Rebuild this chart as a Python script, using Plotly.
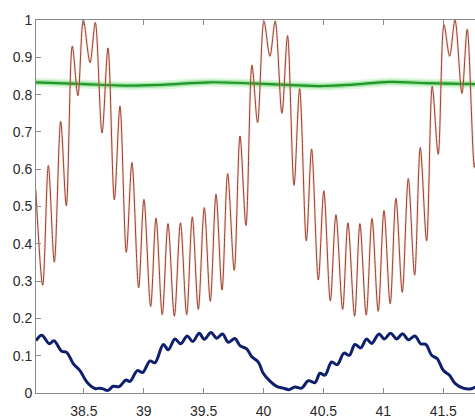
import plotly.graph_objects as go

# Fast-oscillating signal: local extrema (x, y)
red_x = [38.098, 38.156, 38.203, 38.253, 38.306, 38.353, 38.403, 38.450, 38.495, 38.551,
         38.595, 38.651, 38.701, 38.754, 38.801, 38.854, 38.901, 38.957, 39.001, 39.057,
         39.102, 39.154, 39.202, 39.255, 39.306, 39.358, 39.405, 39.455, 39.505, 39.555,
         39.603, 39.653, 39.700, 39.755, 39.803, 39.853, 39.903, 39.950, 40.003, 40.053,
         40.097, 40.153, 40.200, 40.254, 40.301, 40.357, 40.401, 40.457, 40.503, 40.557,
         40.604, 40.660, 40.704, 40.760, 40.804, 40.857, 40.905, 40.957, 41.005, 41.057,
         41.105, 41.158, 41.208, 41.261, 41.308, 41.361, 41.408, 41.458, 41.506, 41.553,
         41.598, 41.656, 41.700, 41.760, 41.800]
red_y = [0.545, 0.289, 0.610, 0.351, 0.728, 0.502, 0.930, 0.797, 1.000, 0.886,
         0.993, 0.697, 0.925, 0.518, 0.769, 0.377, 0.618, 0.282, 0.519, 0.232,
         0.469, 0.210, 0.454, 0.206, 0.456, 0.210, 0.472, 0.224, 0.497, 0.246,
         0.533, 0.276, 0.588, 0.329, 0.689, 0.449, 0.879, 0.725, 0.997, 0.903,
         0.997, 0.750, 0.958, 0.557, 0.816, 0.408, 0.654, 0.303, 0.542, 0.247,
         0.478, 0.224, 0.456, 0.206, 0.454, 0.209, 0.468, 0.219, 0.489, 0.239,
         0.522, 0.270, 0.575, 0.316, 0.658, 0.408, 0.822, 0.640, 0.987, 0.903,
         1.000, 0.803, 0.975, 0.605, 0.850]

# Nearly constant level
green_x = [38.10, 38.45, 38.85, 39.15, 39.55, 39.90, 40.20, 40.50, 40.75, 41.05, 41.35, 41.77]
green_y = [0.833, 0.829, 0.824, 0.826, 0.833, 0.830, 0.826, 0.823, 0.827, 0.834, 0.831, 0.828]

# Slow wave with small ripple
blue_x = [38.100, 38.148, 38.211, 38.250, 38.314, 38.356, 38.411, 38.467, 38.528, 38.592,
          38.634, 38.660, 38.700, 38.745, 38.795, 38.851, 38.885, 38.946, 38.990, 39.052,
          39.093, 39.163, 39.204, 39.260, 39.308, 39.363, 39.408, 39.463, 39.505, 39.561,
          39.608, 39.658, 39.705, 39.761, 39.803, 39.859, 39.900, 39.956, 39.997, 40.053,
          40.109, 40.164, 40.214, 40.262, 40.318, 40.373, 40.429, 40.471, 40.512, 40.568,
          40.615, 40.671, 40.715, 40.763, 40.810, 40.860, 40.902, 40.963, 41.007, 41.061,
          41.111, 41.161, 41.208, 41.264, 41.311, 41.355, 41.403, 41.450, 41.500, 41.550,
          41.598, 41.667, 41.723, 41.770]
blue_y = [0.140, 0.155, 0.132, 0.140, 0.112, 0.109, 0.079, 0.060, 0.028, 0.012,
          0.013, 0.011, 0.007, 0.018, 0.017, 0.035, 0.031, 0.060, 0.055, 0.086,
          0.081, 0.130, 0.116, 0.145, 0.132, 0.153, 0.138, 0.160, 0.144, 0.162,
          0.147, 0.158, 0.136, 0.146, 0.127, 0.118, 0.098, 0.083, 0.053, 0.032,
          0.018, 0.013, 0.009, 0.016, 0.013, 0.033, 0.028, 0.053, 0.048, 0.083,
          0.076, 0.107, 0.101, 0.130, 0.121, 0.145, 0.133, 0.158, 0.145, 0.160,
          0.145, 0.159, 0.143, 0.153, 0.132, 0.130, 0.101, 0.092, 0.061, 0.048,
          0.026, 0.013, 0.011, 0.016]

x_ticks = [38.5, 39, 39.5, 40, 40.5, 41, 41.5]
y_ticks = [0, 0.1, 0.2, 0.3, 0.4, 0.5, 0.6, 0.7, 0.8, 0.9, 1]

fig = go.Figure()

# soft glow under the green level line
fig.add_trace(go.Scatter(x=green_x, y=green_y, mode="lines", line_shape="spline",
                         line=dict(color="rgba(150,232,150,0.30)", width=9), hoverinfo="skip"))
fig.add_trace(go.Scatter(x=green_x, y=green_y, mode="lines", line_shape="spline",
                         line=dict(color="rgba(90,205,90,0.45)", width=5), hoverinfo="skip"))
fig.add_trace(go.Scatter(x=green_x, y=green_y, mode="lines", line_shape="spline",
                         line=dict(color="#1f962c", width=2.2)))

# red oscillation with a faint halo
fig.add_trace(go.Scatter(x=red_x, y=red_y, mode="lines", line_shape="spline",
                         line=dict(color="rgba(225,165,145,0.30)", width=2.6, smoothing=0.9),
                         hoverinfo="skip"))
fig.add_trace(go.Scatter(x=red_x, y=red_y, mode="lines", line_shape="spline",
                         line=dict(color="#9c3f2c", width=1, smoothing=0.9)))

fig.add_trace(go.Scatter(x=blue_x, y=blue_y, mode="lines", line_shape="spline",
                         line=dict(color="#0e1f6e", width=3)))

axis_common = dict(
    showgrid=False, zeroline=False, showline=True, linecolor="#8a8a8a", linewidth=1,
    ticks="inside", ticklen=5, tickcolor="#8a8a8a", tickwidth=1,
    tickfont=dict(family="Liberation Sans, Arial, sans-serif", size=14, color="#2a2a2a"),
)

fig.update_layout(
    width=475, height=419,
    margin=dict(l=36, r=0, t=20, b=19),
    paper_bgcolor="white", plot_bgcolor="white",
    showlegend=False,
    xaxis=dict(range=[38.1, 41.765], tickvals=x_ticks, ticktext=[f"{v:g}" for v in x_ticks],
               mirror="ticks", ticklabelstandoff=5, **axis_common),
    yaxis=dict(range=[0, 1], tickvals=y_ticks, ticktext=[f"{v:g}" for v in y_ticks],
               mirror=False, **axis_common),
)

fig.write_html("out.html")
